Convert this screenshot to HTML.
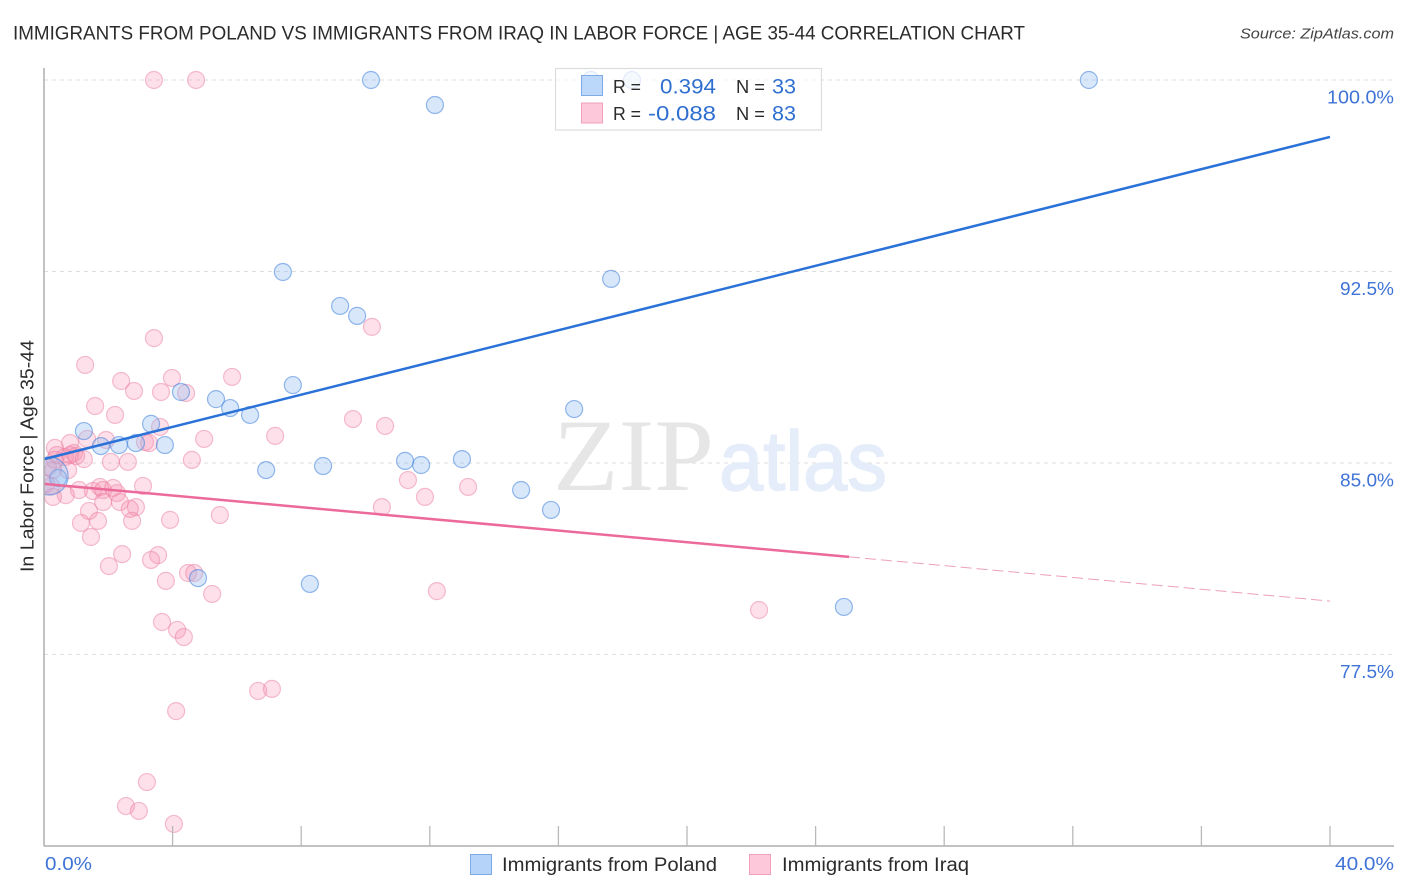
<!DOCTYPE html>
<html lang="en">
<head>
<meta charset="utf-8">
<title>Immigrants from Poland vs Immigrants from Iraq in Labor Force | Age 35-44 Correlation Chart</title>
<style>
html,body{margin:0;padding:0;background:#fff;width:1406px;height:892px;overflow:hidden}
svg{display:block}
text{font-family:"Liberation Sans",sans-serif}
</style>
</head>
<body>
<svg id="chart" xmlns="http://www.w3.org/2000/svg" width="1406" height="892" viewBox="0 0 1406 892">
  <defs>
    <clipPath id="plot-clip"><rect x="44" y="60" width="1350" height="786"/></clipPath>
  </defs>
  <rect x="0" y="0" width="1406" height="892" fill="#ffffff"/>
  <text x="13" y="39.5" font-size="19.5" fill="#2b2b2b" textLength="1012" lengthAdjust="spacingAndGlyphs">IMMIGRANTS FROM POLAND VS IMMIGRANTS FROM IRAQ IN LABOR FORCE | AGE 35-44 CORRELATION CHART</text>
  <text x="1394" y="38.5" font-size="15" font-style="italic" fill="#444" text-anchor="end" textLength="154" lengthAdjust="spacingAndGlyphs">Source: ZipAtlas.com</text>

  <g id="grid"></g>
  <g>
    <text x="553" y="490" font-size="103" fill="#e6e6e6" textLength="161" lengthAdjust="spacingAndGlyphs" style="font-family:'Liberation Serif',serif">ZIP</text>
    <text x="719" y="490" font-size="84" fill="#e4edf9" stroke="#e4edf9" stroke-width="1.5" textLength="168" lengthAdjust="spacingAndGlyphs">atlas</text>
  </g>

  <g id="pink-points" clip-path="url(#plot-clip)"></g>
  <g id="blue-points" clip-path="url(#plot-clip)"></g>
  <g id="trend-lines"></g>

  <g id="axes">
    <line x1="44" y1="68" x2="44" y2="846" stroke="#adadad" stroke-width="1.5"/>
    <line x1="44" y1="846" x2="1394" y2="846" stroke="#adadad" stroke-width="1.5"/>
  </g>
  <g id="y-labels"></g>
  <text x="45" y="870" font-size="18.5" fill="#3f73d6" textLength="47" lengthAdjust="spacingAndGlyphs">0.0%</text>
  <text x="1394" y="870" font-size="18.5" fill="#3f73d6" text-anchor="end" textLength="59" lengthAdjust="spacingAndGlyphs">40.0%</text>
  <text transform="translate(33.5,572) rotate(-90)" font-size="18.5" fill="#2b2b2b" textLength="232" lengthAdjust="spacingAndGlyphs">In Labor Force | Age 35-44</text>

  <g>
    <rect x="555.5" y="68.5" width="266" height="61.5" fill="#ffffff" fill-opacity="0.72" stroke="#dcdcdc" stroke-width="1.2"/>
    <rect x="581.5" y="75.5" width="21" height="20" fill="#b5d3f8" fill-opacity="0.9" stroke="#7eaae6" stroke-width="1"/>
    <rect x="581.5" y="103" width="21" height="20" fill="#fdc8d9" stroke="#f0a0b9" stroke-width="1"/>
    <text x="613" y="93" font-size="18" fill="#2b2b2b" textLength="28" lengthAdjust="spacingAndGlyphs">R =</text>
    <text x="716" y="93.5" font-size="21" fill="#2f6fd0" text-anchor="end" textLength="56" lengthAdjust="spacingAndGlyphs">0.394</text>
    <text x="736" y="93" font-size="18" fill="#2b2b2b" textLength="29" lengthAdjust="spacingAndGlyphs">N =</text>
    <text x="796" y="93.5" font-size="21" fill="#2f6fd0" text-anchor="end" textLength="24" lengthAdjust="spacingAndGlyphs">33</text>
    <text x="613" y="120" font-size="18" fill="#2b2b2b" textLength="28" lengthAdjust="spacingAndGlyphs">R =</text>
    <text x="716" y="120.5" font-size="21" fill="#2f6fd0" text-anchor="end" textLength="68" lengthAdjust="spacingAndGlyphs">-0.088</text>
    <text x="736" y="120" font-size="18" fill="#2b2b2b" textLength="29" lengthAdjust="spacingAndGlyphs">N =</text>
    <text x="796" y="120.5" font-size="21" fill="#2f6fd0" text-anchor="end" textLength="24" lengthAdjust="spacingAndGlyphs">83</text>
  </g>

  <g>
    <rect x="470.5" y="854.5" width="21" height="20" fill="#b5d3f8" stroke="#7eaae6" stroke-width="1"/>
    <text x="502" y="871" font-size="19" fill="#2b2b2b" textLength="215" lengthAdjust="spacingAndGlyphs">Immigrants from Poland</text>
    <rect x="749.5" y="854.5" width="21" height="20" fill="#fdc8d9" stroke="#f0a0b9" stroke-width="1"/>
    <text x="782" y="871" font-size="19" fill="#2b2b2b" textLength="187" lengthAdjust="spacingAndGlyphs">Immigrants from Iraq</text>
  </g>
</svg>

<script>
// Tick values
const yTicks = [100, 92.5, 85, 77.5];
const yTickLabels = ["100.0%", "92.5%", "85.0%", "77.5%"];
const xTicks = [4, 8, 12, 16, 20, 24, 28, 32, 36, 40];

// Immigrants from Poland (x = share %, y = labor force %)
const polandX = [10.17,12.16,18.29,17.01,32.50,7.43,17.64,9.21,9.74,7.74,4.26,5.35,5.79,6.41,16.49,3.33,1.24,1.77,2.33,2.86,3.76,6.91,8.68,11.23,11.73,13.00,14.84,15.77,4.79,8.27,24.88,0.44,0.16];
const polandY = [100,99.02,100,100,100,92.48,92.21,91.15,90.76,88.05,87.78,87.50,87.15,86.88,87.11,86.53,86.25,85.66,85.70,85.78,85.70,84.72,84.88,85.08,84.92,85.15,83.94,83.16,80.49,80.26,79.36,84.41,84.49];

// Immigrants from Iraq
const iraqX = [3.42,4.73,10.20,3.42,1.28,3.98,5.85,2.40,2.80,3.64,4.42,1.59,2.21,9.61,10.61,3.61,7.19,4.98,3.14,3.27,1.34,1.93,0.81,0.34,0.40,0.93,0.65,0.81,1.00,1.24,4.60,2.08,2.61,0.75,0.28,0.12,0.06,0.22,11.32,13.19,3.08,0.68,1.09,1.52,1.74,1.84,2.15,2.27,2.36,1.84,0.28,10.51,11.85,2.86,2.67,1.40,5.47,3.92,1.68,1.15,2.74,1.46,2.43,3.55,3.33,2.02,3.79,4.48,4.67,5.23,12.22,22.24,3.67,4.14,4.35,6.66,7.09,4.11,3.20,2.55,2.95,4.04,0.34];
const iraqY = [100,100,90.33,89.89,88.84,88.33,88.37,88.21,87.82,87.78,87.74,87.23,86.88,86.72,86.45,86.41,86.06,85.94,85.82,85.78,85.94,85.90,85.78,85.59,85.31,85.39,85.23,85.31,85.27,85.15,85.12,85.04,85.04,84.72,84.72,84.84,84.18,84.10,84.33,84.06,84.10,83.74,83.94,83.90,84.06,83.94,84.02,83.82,83.47,83.47,83.67,83.27,83.67,83.27,83.20,83.12,82.96,82.77,82.73,82.65,82.73,82.10,81.43,81.39,81.20,80.96,80.38,80.69,80.69,79.87,79.98,79.24,78.77,78.46,78.18,76.07,76.15,75.28,72.50,71.56,71.37,70.86,85.12];

// Trend lines: [x start, x end] and [y start, y end]
const polandTrendX = [0, 40];
const polandTrendY = [85.15, 97.77];
const iraqTrendX = [0, 25.04];
const iraqTrendY = [84.18, 81.32];
const iraqDashedX = [25.04, 40];
const iraqDashedY = [81.32, 79.59];

// Axis functions
function xScale(v) { return 44 + v * 32.15; }
function yScale(v) { return 80 + (100 - v) * 25.53; }

const NS = "http://www.w3.org/2000/svg";
function make(tag, attrs, parent) {
  const el = document.createElementNS(NS, tag);
  for (const k in attrs) el.setAttribute(k, attrs[k]);
  parent.appendChild(el);
  return el;
}

const gridG = document.getElementById("grid");
yTicks.forEach(function (t) {
  const gl = make("line", { x1: 44, x2: 1394, y1: yScale(t), y2: yScale(t), stroke: "#dedede", "stroke-width": 1, "stroke-dasharray": "4 4" }, gridG);
  
  
});

const axesG = document.getElementById("axes");
xTicks.forEach(function (t) {
  const tk = make("line", { x1: xScale(t), x2: xScale(t), y1: 826, y2: 846, stroke: "#b9b9b9", "stroke-width": 1.3 }, axesG);
  
  
});

const yLabelG = document.getElementById("y-labels");
yTicks.forEach(function (t, i) {
  const lb = make("text", { x: 1394, y: yScale(t) + 23.5, "font-size": 18.5, fill: "#3f73d6", "text-anchor": "end", textLength: yTickLabels[i].length === 6 ? 67 : 54, lengthAdjust: "spacingAndGlyphs" }, yLabelG);
  lb.textContent = yTickLabels[i];
  
  
});

const pinkG = document.getElementById("pink-points");
iraqX.forEach(function (v, i) {
  const c = make("circle", { cx: xScale(v), cy: yScale(iraqY[i]), r: 8.5, fill: "#f78fb0", "fill-opacity": 0.28, stroke: "#ec7fa2", "stroke-opacity": 0.5, "stroke-width": 1.2 }, pinkG);
  
  
});

const largePolandIndex = polandX.length - 1;
const blueG = document.getElementById("blue-points");
polandX.forEach(function (v, i) {
  const c = make("circle", { cx: xScale(v), cy: yScale(polandY[i]), r: i === largePolandIndex ? 19 : 8.5, fill: "#8fbcf0", "fill-opacity": 0.35, stroke: "#3f7fdc", "stroke-opacity": 0.55, "stroke-width": 1.2 }, blueG);
  
  
});

const trendG = document.getElementById("trend-lines");
const blueTrend = make("line", { x1: xScale(polandTrendX[0]), y1: yScale(polandTrendY[0]), x2: xScale(polandTrendX[1]), y2: yScale(polandTrendY[1]), stroke: "#2a72d8", "stroke-width": 2.5 }, trendG);


const pinkTrend = make("line", { x1: xScale(iraqTrendX[0]), y1: yScale(iraqTrendY[0]), x2: xScale(iraqTrendX[1]), y2: yScale(iraqTrendY[1]), stroke: "#ec6a9a", "stroke-width": 2.5 }, trendG);


const pinkDash = make("line", { x1: xScale(iraqDashedX[0]), y1: yScale(iraqDashedY[0]), x2: xScale(iraqDashedX[1]), y2: yScale(iraqDashedY[1]), stroke: "#e87fa3", "stroke-width": 1, "stroke-opacity": 0.75, "stroke-dasharray": "11 5" }, trendG);


</script>
</body>
</html>
